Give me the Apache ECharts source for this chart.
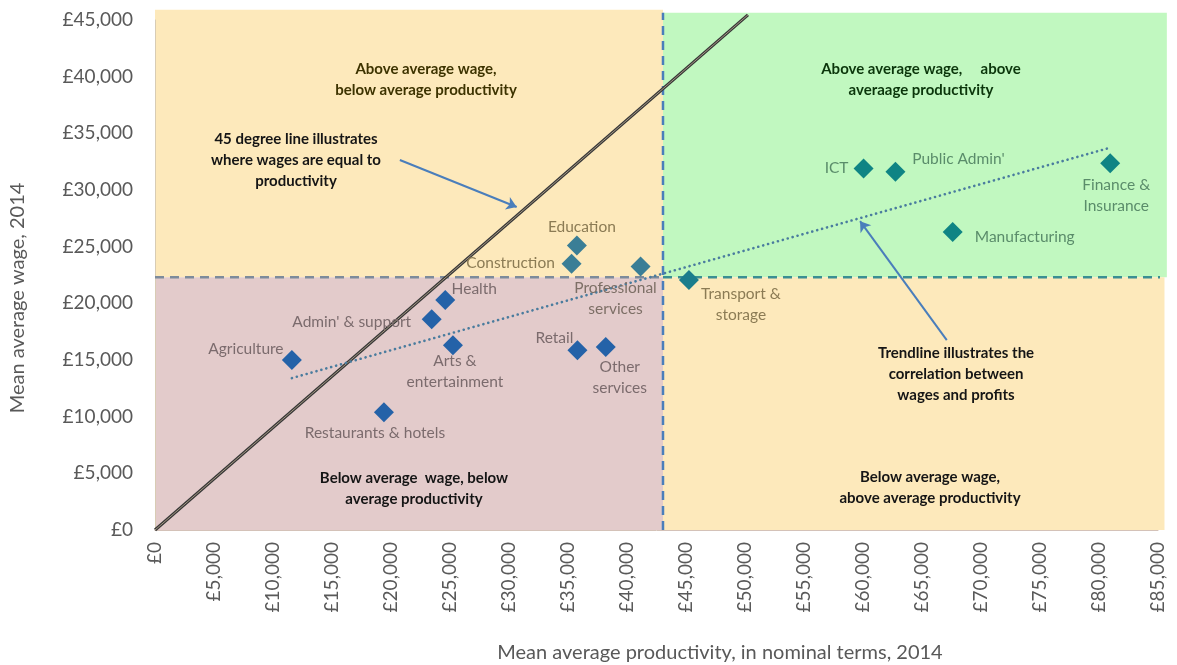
<!DOCTYPE html>
<html>
<head>
<meta charset="utf-8">
<script src="https://cdn.jsdelivr.net/npm/echarts@6/dist/echarts.min.js"></script>
<style>
  html, body { margin: 0; padding: 0; background: #ffffff; }
  #chart { width: 1177px; height: 665px; }
</style>
</head>
<body>
<div id="chart"></div>
<script>
// Sector averages, 2014: productivity (x) against wage (y)
const sectors = [
  'Agriculture', 'Restaurants & hotels', "Admin' & support", 'Health',
  'Arts &\nentertainment', 'Education', 'Construction', 'Professional\nservices',
  'Retail', 'Other\nservices', 'Transport &\nstorage', 'ICT', "Public Admin'",
  'Finance &\nInsurance', 'Manufacturing'
];
const productivity = [11600, 19400, 23450, 24600, 25250, 35750, 35300, 41150, 35800, 38200, 45250, 60050, 62750, 80950, 67600];
const wages        = [15000, 10400, 18600, 20300, 16300, 25100, 23500, 23250, 15850, 16150, 22050, 31900, 31600, 32350, 26300];

// Axis ranges: [min, max, step]
const xRange = [0, 85000, 5000];
const yRange = [0, 45000, 5000];

// Averages splitting the chart into four quadrants
const averageProductivity = 43050;
const averageWage = 22300;

// Reference lines
const parityLine = [[0, 0], [50250, 45450]];
const trendLine = [[11600, 13400], [81000, 33750]];
const parityArrow = [[20750, 32650], [30650, 28500]];
const trendArrow = [[67100, 16750], [59750, 27250]];

// Quadrant panels: [x0, y0, x1, y1]
const quadrants = [
  [0, averageWage, averageProductivity, 45900],
  [averageProductivity, averageWage, 85750, 45650],
  [0, 0, averageProductivity, averageWage],
  [averageProductivity, 0, 85550, averageWage]
];
const quadrantColors = ['#fde9bb', '#c1f8c0', '#e3cbcb', '#fde9bb'];

// Marker colour, label colour and label shift (px) per sector
const pointStyle = {
  'Agriculture': { c: '#2462a8', t: '#7b6b6d', off: [-46, -11] },
  'Restaurants & hotels': { c: '#2462a8', t: '#7b6b6d', off: [-9, 21] },
  "Admin' & support": { c: '#2462a8', t: '#7b6b6d', off: [-80, 3] },
  'Health': { c: '#2462a8', t: '#7b6b6d', off: [29, -11] },
  'Arts &\nentertainment': { c: '#2462a8', t: '#7b6b6d', off: [2, 26] },
  'Education': { c: '#3a7e96', t: '#8b7b54', off: [5, -19] },
  'Construction': { c: '#3a7e96', t: '#8b7b54', off: [-61, -1] },
  'Professional\nservices': { c: '#3a7e96', t: '#7d6f66', off: [-25, 32] },
  'Retail': { c: '#2462a8', t: '#7b6b6d', off: [-23, -12] },
  'Other\nservices': { c: '#2462a8', t: '#7b6b6d', off: [14, 31] },
  'Transport &\nstorage': { c: '#1a7d8c', t: '#8b7b54', off: [52, 24] },
  'ICT': { c: '#0f8484', t: '#5a8c6a', off: [-27, 0] },
  "Public Admin'": { c: '#0f8484', t: '#5a8c6a', off: [63, -13] },
  'Finance &\nInsurance': { c: '#0f8484', t: '#5a8c6a', off: [6, 32] },
  'Manufacturing': { c: '#0f8484', t: '#5a8c6a', off: [72, 5] }
};

const FONT = 'Lato, "Open Sans", sans-serif';
const pounds = v => '£' + Number(v).toLocaleString('en-GB');

const points = sectors.map((name, i) => {
  const s = pointStyle[name];
  return {
    name,
    value: [productivity[i], wages[i]],
    itemStyle: { color: s.c, opacity: 1 },
    label: { color: s.t }
  };
});

const chart = echarts.init(document.getElementById('chart'), null, { renderer: 'canvas' });

const noteStyle = (color) => ({
  font: 'bold 15px ' + FONT,
  fill: color,
  textAlign: 'center',
  textVerticalAlign: 'top',
  lineHeight: 21
});

chart.setOption({
  animation: false,
  backgroundColor: '#ffffff',
  grid: { left: 155, right: 19, top: 20, bottom: 135, containLabel: false },
  xAxis: {
    type: 'value',
    min: xRange[0], max: xRange[1], interval: xRange[2],
    axisLine: { show: true, lineStyle: { color: '#d4c2b8', width: 1 } },
    axisTick: { show: false },
    splitLine: { show: false },
    axisLabel: {
      rotate: 90, margin: 12, formatter: pounds,
      fontFamily: FONT, fontSize: 19, color: '#595959'
    }
  },
  yAxis: {
    type: 'value',
    min: yRange[0], max: yRange[1], interval: yRange[2],
    axisLine: { show: true, lineStyle: { color: '#d8ccb4', width: 1 } },
    axisTick: { show: false },
    splitLine: { show: false },
    axisLabel: {
      margin: 22, formatter: pounds,
      fontFamily: FONT, fontSize: 19, color: '#595959'
    }
  },
  graphic: [
    { type: 'text', x: 426, y: 59, z: 20, style: Object.assign({ text: 'Above average wage,\nbelow average productivity' }, noteStyle('#3d3300')) },
    { type: 'text', x: 296, y: 129, z: 20, style: Object.assign({ text: '45 degree line illustrates\nwhere wages are equal to\nproductivity' }, noteStyle('#151515')) },
    { type: 'text', x: 921, y: 59, z: 20, style: Object.assign({ text: 'Above average wage,     above\naveraage productivity' }, noteStyle('#0b360b')) },
    { type: 'text', x: 414, y: 468, z: 20, style: Object.assign({ text: 'Below average  wage, below\naverage productivity' }, noteStyle('#151515')) },
    { type: 'text', x: 930, y: 467, z: 20, style: Object.assign({ text: 'Below average wage,\nabove average productivity' }, noteStyle('#151515')) },
    { type: 'text', x: 956, y: 343, z: 20, style: Object.assign({ text: 'Trendline illustrates the\ncorrelation between\nwages and profits' }, noteStyle('#151515')) },
    {
      type: 'text', x: 720, y: 653,
      style: { text: 'Mean average productivity, in nominal terms, 2014', font: '20px ' + FONT, fill: '#595959', textAlign: 'center', textVerticalAlign: 'middle' }
    },
    {
      type: 'text', x: 18, y: 298, rotation: Math.PI / 2,
      style: { text: 'Mean average wage, 2014', font: '20px ' + FONT, fill: '#595959', textAlign: 'center', textVerticalAlign: 'middle' }
    }
  ],
  series: [
    {
      type: 'custom',
      name: 'quadrants',
      silent: true,
      z: 0,
      clip: false,
      data: quadrants,
      encode: { x: [0, 2], y: [1, 3] },
      renderItem: (params, api) => {
        const p0 = api.coord([api.value(0), api.value(3)]);
        const p1 = api.coord([api.value(2), api.value(1)]);
        return {
          type: 'rect',
          shape: { x: p0[0], y: p0[1], width: p1[0] - p0[0], height: p1[1] - p0[1] },
          style: { fill: quadrantColors[params.dataIndex] }
        };
      }
    },
    {
      type: 'line', name: 'average productivity', silent: true, clip: false, z: 3,
      symbol: 'none',
      data: [[averageProductivity, 0], [averageProductivity, 45650]],
      lineStyle: { color: '#4a7ebb', width: 2.5, type: [9, 6] }
    },
    {
      type: 'line', name: 'average wage (left)', silent: true, clip: false, z: 3,
      symbol: 'none',
      data: [[0, averageWage], [averageProductivity, averageWage]],
      lineStyle: { color: '#7d8b9b', width: 2.5, type: [9, 6] }
    },
    {
      type: 'line', name: 'average wage (right)', silent: true, clip: false, z: 3,
      symbol: 'none',
      data: [[averageProductivity, averageWage], [86450, averageWage]],
      lineStyle: { color: '#3a8f93', width: 2.5, type: [9, 6] }
    },
    {
      type: 'line', name: 'parity', silent: true, clip: false, z: 4,
      symbol: 'none',
      data: parityLine,
      lineStyle: { color: '#383838', width: 3.2 }
    },
    {
      type: 'line', name: 'parity inner', silent: true, clip: false, z: 4,
      symbol: 'none',
      data: parityLine,
      lineStyle: { color: '#b0a28a', width: 0.9 }
    },
    {
      type: 'line', name: 'trend', silent: true, clip: false, z: 5,
      symbol: 'none',
      data: trendLine,
      lineStyle: { color: '#4a7c9e', width: 2.6, type: [0.1, 5], cap: 'round' },
      markLine: {
        silent: true,
        symbol: ['none', 'arrow'],
        symbolSize: 10,
        label: { show: false },
        emphasis: { disabled: true },
        lineStyle: { color: '#4a7ebb', width: 2, type: 'solid', cap: 'butt' },
        data: [
          [{ coord: parityArrow[0] }, { coord: parityArrow[1] }],
          [{ coord: trendArrow[0] }, { coord: trendArrow[1] }]
        ]
      }
    },
    {
      type: 'scatter', name: 'sectors', z: 10,
      symbol: 'diamond', symbolSize: 20,
      itemStyle: { opacity: 1 },
      data: points,
      label: {
        show: true,
        position: 'inside',
        formatter: p => p.name,
        fontFamily: FONT, fontSize: 15.5, lineHeight: 21,
        align: 'center', verticalAlign: 'middle'
      },
      labelLayout: params => {
        const s = pointStyle[sectors[params.dataIndex]];
        return { dx: s.off[0], dy: s.off[1], hideOverlap: false };
      }
    }
  ]
});
</script>
</body>
</html>
